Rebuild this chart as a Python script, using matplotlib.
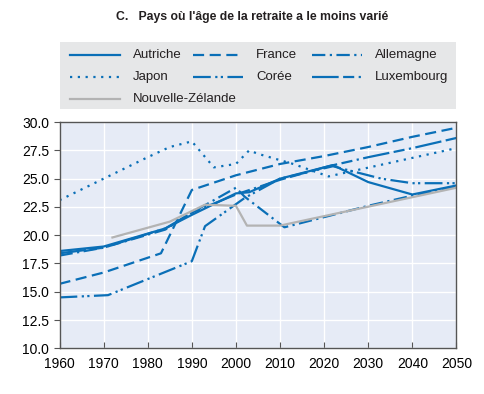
import matplotlib
matplotlib.use("Agg")
import matplotlib.pyplot as plt
from matplotlib.lines import Line2D
from matplotlib.patches import Rectangle

plt.rcParams['font.family'] = ['Liberation Sans', 'DejaVu Sans']

BLUE = '#0a6fb7'
GREY = '#b3b3b3'

# data
aut_years = [1960, 1970, 1984, 1990, 2000, 2003, 2010, 2022, 2030, 2040, 2050]
aut_vals = [18.6, 19.0, 20.6, 21.8, 23.7, 23.8, 25.0, 26.2, 24.7, 23.6, 24.4]

fra_years = [1960, 1970, 1983, 1990, 2000, 2010, 2020, 2030, 2040, 2050]
fra_vals = [15.7, 16.7, 18.4, 24.0, 25.3, 26.3, 27.0, 27.8, 28.7, 29.5]

deu_years = [1960, 1970, 1984, 1990, 2000, 2002, 2011, 2020, 2030, 2040, 2050]
deu_vals = [18.2, 18.9, 20.5, 22.0, 24.2, 23.4, 20.7, 21.6, 22.6, 23.5, 24.3]

jpn_years = [1960, 1970, 1980, 1985, 1990, 1995, 2000, 2003, 2005, 2013, 2021, 2050]
jpn_vals = [23.1, 25.0, 26.9, 27.8, 28.3, 26.0, 26.3, 27.5, 27.2, 26.3, 25.2, 27.7]

kor_years = [1960, 1971, 1990, 1993, 2002, 2010, 2022, 2033, 2040, 2050]
kor_vals = [14.5, 14.7, 17.7, 20.8, 23.3, 25.0, 26.1, 25.0, 24.6, 24.6]

lux_years = [1960, 1970, 1984, 1990, 2000, 2010, 2021, 2030, 2040, 2050]
lux_vals = [18.4, 18.9, 20.6, 22.0, 23.6, 24.9, 26.1, 26.9, 27.7, 28.6]

nzl_years = [1972, 1985, 1993, 2000, 2002.5, 2010, 2050]
nzl_vals = [19.8, 21.2, 22.7, 22.6, 20.85, 20.85, 24.2]

series = [
    ("Autriche", aut_years, aut_vals, BLUE, '-'),
    ("France", fra_years, fra_vals, BLUE, (0, (5, 2.5))),
    ("Allemagne", deu_years, deu_vals, BLUE, (0, (6, 2, 1, 2))),
    ("Japon", jpn_years, jpn_vals, BLUE, (0, (1, 2.5))),
    ("Corée", kor_years, kor_vals, BLUE, (0, (8, 2, 1, 1.5, 1, 2))),
    ("Luxembourg", lux_years, lux_vals, BLUE, (0, (12, 2, 5, 2, 1, 2))),
    ("Nouvelle-Zélande", nzl_years, nzl_vals, GREY, '-'),
]

fig = plt.figure(figsize=(4.84, 3.94), dpi=100)
ax = fig.add_axes([0.123, 0.116, 0.820, 0.574])
ax.set_facecolor('#e6ebf6')

for name, xs, ys, col, ls in series:
    ax.plot(xs, ys, color=col, linestyle=ls, linewidth=1.6, label=name)

ax.set_xlim(1960, 2050)
ax.set_ylim(10, 30)
ax.set_xticks(range(1960, 2051, 10))
ax.set_yticks([10 + 2.5 * i for i in range(9)])
ax.set_yticklabels(["%.1f" % (10 + 2.5 * i) for i in range(9)])
ax.grid(True, color='white', linewidth=1.0)
ax.set_axisbelow(True)
for s in ax.spines.values():
    s.set_color('#555555')
    s.set_linewidth(1.0)
ax.tick_params(axis='x', direction='in', length=4, color='#555555', labelsize=10, pad=6)
ax.tick_params(axis='y', direction='out', length=4, color='#555555', labelsize=10)

fig.text(0.52, 0.957, "C.   Pays où l'âge de la retraite a le moins varié",
         ha='center', va='center', fontsize=8.8, fontweight='bold', color='#231f20')

# legend box drawn by hand (row-major layout like the original)
W, H = 484.0, 394.0
fig.patches.append(Rectangle((60 / W, 1 - 109 / H), 396 / W, 67 / H,
                             transform=fig.transFigure, facecolor='#e6e7e8',
                             edgecolor='none', zorder=0))
col_x = [70, 193, 312]
row_y = [55, 77, 99]
for i, (name, xs, ys, col, ls) in enumerate(series):
    r, c = divmod(i, 3)
    x0 = col_x[c]
    y0 = 1 - row_y[r] / H
    fig.lines.append(Line2D([x0 / W, (x0 + 50) / W], [y0, y0], transform=fig.transFigure,
                            color=col, linestyle=ls, linewidth=1.6))
    fig.text((x0 + 63) / W, y0, name, ha='left', va='center', fontsize=9.5, color='#231f20')

fig.savefig("out.png", dpi=100)
